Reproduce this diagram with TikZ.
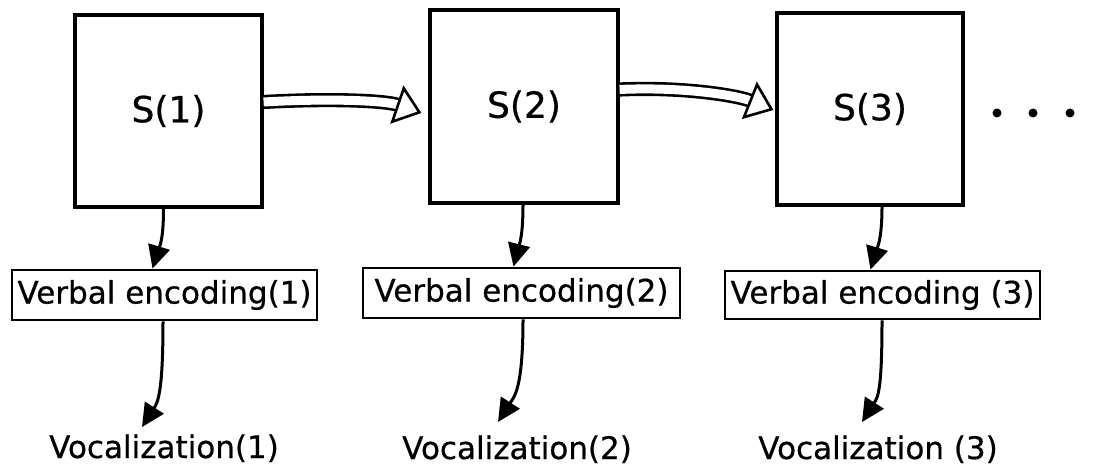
\documentclass[tikz,border=0pt]{standalone}
\usepackage{fontspec}
\setmainfont[FakeBold=0.6]{DejaVu Sans}
\usetikzlibrary{arrows.meta,calc}
\begin{document}
\begin{tikzpicture}[x=1pt,y=-1pt,
  sbox/.style={draw, line width=3.2pt, inner sep=0pt, font=\fontsize{36}{40}\selectfont},
  vbox/.style={draw, line width=2.8pt, inner sep=0pt, font=\fontsize{31}{34}\selectfont},
  vlab/.style={inner sep=0pt, anchor=base, font=\fontsize{31}{34}\selectfont},
  dotnode/.style={circle, fill=black, inner sep=0pt, minimum size=9pt},
  thinarrow/.style={line width=3pt, -{Triangle[length=23pt,width=22pt]}},
  hollow/.style={line width=2.6pt, double=white, double distance=9pt,
     -{Triangle[open,length=26pt,width=40pt,line width=2.6pt]}}
]
\useasboundingbox (0,0) rectangle (1105,468);

% state boxes
\node[sbox, minimum width=187pt, minimum height=192pt] (s1) at (168.5,111) {S(1)};
\node[sbox, minimum width=188pt, minimum height=193pt] (s2) at (524,106.5) {S(2)};
\node[sbox, minimum width=186pt, minimum height=192pt] (s3) at (870,109) {S(3)};

% verbal encoding boxes
\node[vbox, minimum width=305pt, minimum height=50pt] (v1) at (164.5,295) {Verbal encoding(1)};
\node[vbox, minimum width=317pt, minimum height=50pt] (v2) at (521.5,293) {Verbal encoding(2)};
\node[vbox, minimum width=315pt, minimum height=48pt] (v3) at (882.5,295) {Verbal encoding (3)};

% vocalization labels
\node[vlab] (o1) at (164,458) {Vocalization(1)};
\node[vlab] (o2) at (517,459) {Vocalization(2)};
\node[vlab] (o3) at (878,459) {Vocalization (3)};

% dots
\node[dotnode] (d1) at (997,113) {};
\node[dotnode] (d2) at (1033,113) {};
\node[dotnode] (d3) at (1070,113) {};

% hollow arrows between states
\draw[hollow] ($(s1.east)+(0,-9)$) .. controls +(70,-4) and +(-35,-12) .. ($(s2.west)+(-7,6.5)$);
\draw[hollow] ($(s2.east)+(0,-17)$) .. controls +(65,-3) and +(-35,-14) .. ($(s3.west)+(-2,1)$);

% state -> verbal encoding
\draw[thinarrow] ($(s1.south)+(-5,0)$) .. controls +(0,35) and +(6,-20) .. ($(v1.north)+(-12,0)$);
\draw[thinarrow] ($(s2.south)+(-1,0)$) .. controls +(0,35) and +(5,-20) .. ($(v2.north)+(-8,0)$);
\draw[thinarrow] ($(s3.south)+(12,0)$) .. controls +(0,35) and +(6,-20) .. ($(v3.north)+(-12,0)$);

% verbal encoding -> vocalization
\draw[thinarrow] ($(v1.south)+(-1.5,0)$) .. controls +(0,70) and +(16,-25) .. ($(o1.base)+(-22,-31)$);
\draw[thinarrow] ($(v2.south)+(1.5,0)$) .. controls +(0,70) and +(16,-25) .. ($(o2.base)+(-19,-37)$);
\draw[thinarrow] ($(v3.south)+(-0.5,0)$) .. controls +(0,70) and +(16,-25) .. ($(o3.base)+(-16,-37)$);
\end{tikzpicture}
\end{document}
